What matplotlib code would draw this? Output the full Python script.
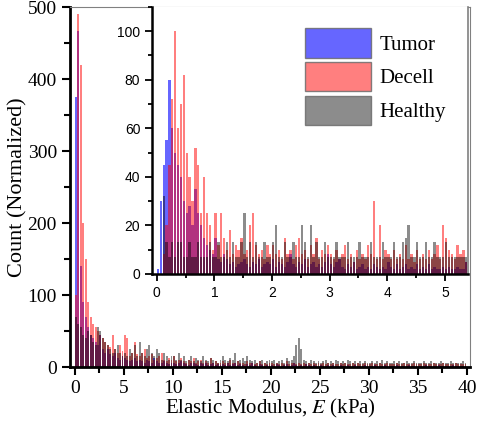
import numpy as np
import matplotlib
matplotlib.use("Agg")
import matplotlib.pyplot as plt
from matplotlib.ticker import MultipleLocator

plt.rcParams["mathtext.fontset"] = "stix"

# main histogram, bin width 0.25 kPa, 0..40
MAIN_W = 0.25
tumor_main = [375,467,140,90,70,55,45,40,35,30,45,25,20,25,18,15,20,12,10,15,
              12,10,8,10,12,8,10,8,6,10,8,6,12,8,6,5,8,6,4,6,
              5,4,6,8,5,4,3,5,6,4,3,5,4,6,3,4,5,3,4,3,
              4,3,5,3,4,6,3,4,3,2,4,3,5,3,2,4,3,2,3,2,
              3,2,4,3,2,3,4,2,3,5,3,2,3,2,4,3,2,3,2,2,
              3,2,2,3,2,3,2,2,3,2,2,3,2,2,3,2,2,2,3,2,
              2,2,3,2,2,2,3,2,2,2,2,3,2,2,2,2,3,2,2,2,
              2,2,2,3,2,2,2,2,3,2,2,2,2,2,3,2,2,2,2,2]
decell_main = [100,490,420,200,150,90,70,60,55,50,45,40,35,30,28,45,25,20,30,22,
               45,40,15,20,35,18,15,20,25,12,15,18,10,12,15,20,10,8,12,10,
               15,8,10,12,8,6,10,8,12,6,8,10,6,8,5,12,6,8,5,6,
               8,5,6,10,5,6,8,5,6,4,8,5,6,4,5,8,4,5,4,6,
               5,4,6,4,5,4,8,4,5,6,4,5,4,6,4,5,4,6,4,5,
               4,5,4,6,4,5,4,4,6,4,5,4,4,5,4,6,4,4,5,4,
               4,5,4,4,6,4,4,5,4,4,4,5,4,4,6,4,4,4,5,4,
               4,4,5,4,4,4,6,4,4,4,5,4,4,4,4,5,4,4,4,4]
healthy_main = [70,60,55,45,40,50,45,35,30,55,50,40,35,30,25,20,25,30,20,15,
                20,15,25,20,30,15,35,20,15,25,30,20,15,25,20,10,20,15,10,15,
                15,10,20,10,15,8,10,15,8,12,10,8,15,10,8,12,10,8,6,10,
                15,10,8,12,10,20,8,10,12,8,15,10,8,10,6,8,10,6,8,10,
                8,10,6,8,10,6,12,8,10,15,30,40,25,10,8,6,10,8,6,8,
                6,8,10,6,8,6,10,8,6,8,6,10,8,6,8,6,8,6,8,6,
                6,8,6,8,6,10,6,8,6,6,8,6,8,6,6,8,6,6,8,6,
                6,6,8,6,6,8,6,6,6,8,6,6,6,8,6,6,6,6,8,6]

# inset histogram, bin width 0.05 kPa, 0..5.4
INSET_W = 0.05
tumor_inset = [2,30,45,55,80,60,50,45,40,30,25,28,20,35,25,20,15,12,10,8,
               15,6,5,8,6,4,5,3,4,5,6,4,3,5,4,6,3,4,5,4,
               6,3,5,4,3,5,8,4,3,5,4,6,3,4,5,3,4,3,5,8,
               4,3,5,6,3,2,4,3,5,2,3,4,2,3,2,4,3,2,3,2,
               5,3,2,4,2,3,4,2,3,2,4,2,3,2,4,2,3,2,2,3,
               2,3,2,2,3,2,2,5]
decell_inset = [0,0,8,20,45,72,100,60,70,82,50,40,30,52,45,25,40,25,20,10,
                25,12,25,15,10,18,8,12,10,15,8,10,20,25,12,8,10,6,12,8,
                12,8,10,6,15,8,10,6,12,15,8,10,6,12,8,15,6,10,8,12,
                8,6,10,6,8,12,6,8,5,10,6,8,6,12,8,30,6,20,6,10,
                8,6,10,6,8,6,12,6,8,5,10,6,8,6,10,6,8,12,6,20,
                15,10,8,6,12,8,10,5]
healthy_inset = [0,0,32,13,7,13,7,13,13,7,7,13,7,7,13,7,7,7,13,7,
                 7,13,7,7,13,7,13,7,7,13,25,7,13,7,13,7,7,13,7,7,
                 13,20,7,7,13,7,7,13,7,7,20,13,7,20,7,13,7,7,13,7,
                 7,7,13,7,7,7,13,7,7,7,13,7,7,7,13,7,7,7,13,7,
                 7,7,13,7,7,13,15,20,7,7,13,7,7,13,7,7,13,7,7,7,
                 13,7,7,7,7,7,7,7]

SERIES = [("Tumor", (0, 0, 1, 0.6)), ("Decell", (1, 0, 0, 0.5)), ("Healthy", (0, 0, 0, 0.45))]
SERIF = "Liberation Serif"
SANS = "Liberation Sans"


def draw(ax, data, w):
    for (name, col), h in zip(SERIES, data):
        edges = np.arange(len(h)) * w
        ax.bar(edges, h, w * 0.8, align="edge", color=col, linewidth=0, label=name)


fig = plt.figure(figsize=(4.8, 4.28), dpi=100)
ax = fig.add_axes([0.146, 0.1425, 0.833, 0.841])
draw(ax, [tumor_main, decell_main, healthy_main], MAIN_W)
ax.set_xlim(-0.5, 40.3)
ax.set_ylim(0, 500)
ax.xaxis.set_major_locator(MultipleLocator(5))
ax.xaxis.set_minor_locator(MultipleLocator(2.5))
ax.yaxis.set_major_locator(MultipleLocator(100))
ax.yaxis.set_minor_locator(MultipleLocator(50))
ax.tick_params(which="both", direction="out", width=1.5, labelsize=14)
ax.tick_params(which="major", length=6)
ax.tick_params(which="minor", length=4)
for lab in ax.get_xticklabels() + ax.get_yticklabels():
    lab.set_family(SERIF)
for s in ["left", "bottom"]:
    ax.spines[s].set_linewidth(2)
for s in ["top", "right"]:
    ax.spines[s].set_color("grey")
    ax.spines[s].set_linewidth(0.8)
ax.set_xlabel("Elastic Modulus, $\\mathit{E}$ (kPa)", family=SERIF, fontsize=15, labelpad=0)
ax.set_ylabel("Count (Normalized)", family=SERIF, fontsize=16, labelpad=0)

ins = fig.add_axes([0.317, 0.36, 0.658, 0.624])
draw(ins, [tumor_inset, decell_inset, healthy_inset], INSET_W)
ins.set_xlim(-0.08, 5.4)
ins.set_ylim(0, 110)
ins.xaxis.set_major_locator(MultipleLocator(1))
ins.xaxis.set_minor_locator(MultipleLocator(0.5))
ins.yaxis.set_major_locator(MultipleLocator(20))
ins.yaxis.set_minor_locator(MultipleLocator(10))
ins.tick_params(which="both", direction="out", width=1.3, labelsize=10)
ins.tick_params(which="major", length=5)
ins.tick_params(which="minor", length=3)
for lab in ins.get_xticklabels() + ins.get_yticklabels():
    lab.set_family(SANS)
for s in ["left", "bottom"]:
    ins.spines[s].set_linewidth(1.8)
ins.spines["top"].set_visible(False)
ins.spines["right"].set_color("grey")
ins.spines["right"].set_linewidth(1.2)
leg = ins.legend(loc="upper right", bbox_to_anchor=(0.99, 0.99), frameon=False,
                 prop={"family": SERIF, "size": 15}, handlelength=3.2, handleheight=1.8,
                 labelspacing=0.2, handletextpad=0.4)
for p in leg.get_patches():
    p.set_edgecolor((0.4, 0.4, 0.4, 0.8))
    p.set_linewidth(1)

fig.savefig("out.png", dpi=100)
